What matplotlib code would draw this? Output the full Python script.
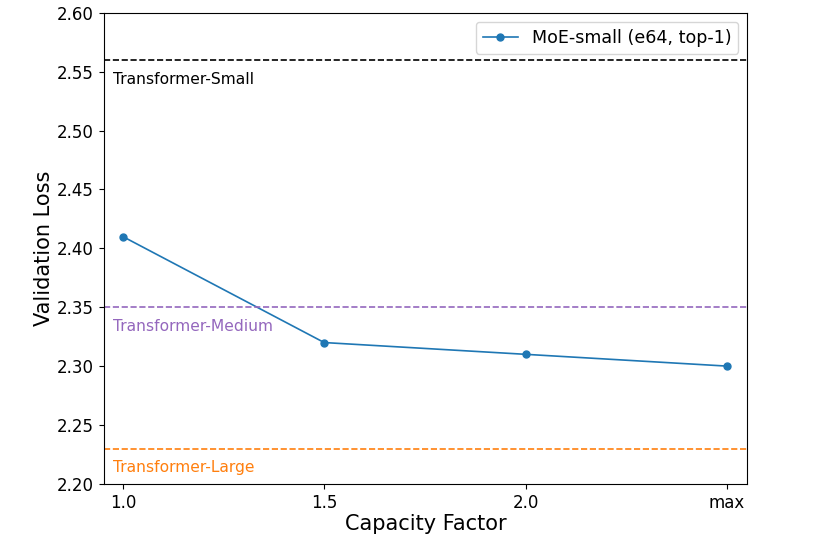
import numpy as np
import matplotlib
matplotlib.use('Agg')
import matplotlib.pyplot as plt

# capacity factor vs validation loss
xlabels = ['1.0', '1.5', '2.0', 'max']
moe_loss = [2.41, 2.32, 2.31, 2.30]

baseline_names = ['Transformer-Small', 'Transformer-Medium', 'Transformer-Large']
baseline_loss = [2.56, 2.35, 2.23]
baseline_colors = ['black', '#9467bd', '#ff7f0e']

fig = plt.figure(figsize=(8.3, 5.37), dpi=100)
ax = fig.add_axes([0.125, 0.099, 0.775, 0.877])

x = np.arange(len(xlabels))
ax.plot(x, moe_loss, 'o-', color='#1f77b4', markersize=5, linewidth=1.2,
        label='MoE-small (e64, top-1)')

for name, val, c in zip(baseline_names, baseline_loss, baseline_colors):
    ax.axhline(val, color=c, linestyle='--', linewidth=1.2)
    ax.text(-0.05, val - 0.02, name, color=c, fontsize=11.2, va='baseline')

ax.set_xlim(-0.095, 3.1)
ax.set_ylim(2.20, 2.60)
ax.set_xticks(x)
ax.set_xticklabels(xlabels)
ax.set_yticks(np.arange(2.20, 2.601, 0.05))
ax.tick_params(labelsize=12)
ax.set_xlabel('Capacity Factor', fontsize=15, labelpad=2)
ax.set_ylabel('Validation Loss', fontsize=15, labelpad=2)
ax.legend(loc='upper right', fontsize=12.6)

plt.savefig('out.png', dpi=100)
